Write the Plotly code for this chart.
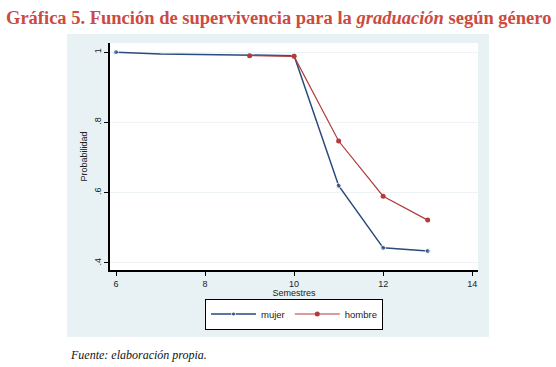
import plotly.graph_objects as go

# Data
mujer_x = [6, 7, 10, 11, 12, 13]
mujer_y = [1.0, 0.995, 0.99, 0.62, 0.443, 0.434]
mujer_marker = [5, 0, 5, 5, 5, 5]
hombre_x = [9, 10, 11, 12, 13]
hombre_y = [0.99, 0.988, 0.747, 0.59, 0.522]
x_ticks = [6, 8, 10, 12, 14]
y_ticks = [0.4, 0.6, 0.8, 1.0]
y_tick_labels = [".4", ".6", ".8", "1"]

BLUE = "#2b4a7c"
RED = "#b23b3b"

fig = go.Figure()
fig.add_trace(go.Scatter(x=mujer_x, y=mujer_y, mode="lines+markers", name="mujer",
                         line=dict(color=BLUE, width=1.5),
                         marker=dict(color=BLUE, size=mujer_marker, symbol="circle")))
fig.add_trace(go.Scatter(x=hombre_x, y=hombre_y, mode="lines+markers", name="hombre",
                         line=dict(color=RED, width=1.2),
                         marker=dict(color=RED, size=5, symbol="circle")))

L, R, T, B = 110, 78, 43, 97
W, H = 556, 367
pw = W - L - R
ph = H - T - B

def px(x):
    return (x - L) / pw

def py(y):
    return (H - B - y) / ph

fig.add_shape(type="rect", xref="paper", yref="paper",
              x0=px(67), x1=px(489), y0=py(337), y1=py(34),
              fillcolor="#e8f1f4", line=dict(width=0), layer="below")
fig.add_shape(type="rect", xref="paper", yref="paper",
              x0=0, x1=1, y0=0, y1=1,
              fillcolor="white", line=dict(width=0), layer="below")

fig.update_layout(
    width=W, height=H,
    margin=dict(l=L, r=R, t=T, b=B, autoexpand=False),
    paper_bgcolor="white", plot_bgcolor="white",
    font=dict(family="Liberation Sans, Arial, sans-serif", size=9, color="#222"),
    showlegend=True,
    legend=dict(orientation="h", xref="container", yref="container",
                x=294 / W, xanchor="center", y=1 - 314 / H, yanchor="middle",
                bordercolor="black", borderwidth=1, bgcolor="white",
                font=dict(size=9.5), itemwidth=45, tracegroupgap=0),
    xaxis=dict(range=[5.865, 14.13], tickvals=x_ticks, showline=True, linecolor="black",
               linewidth=1.5, ticks="outside", ticklen=4, tickcolor="black",
               showgrid=False, zeroline=False, automargin=False,
               title=dict(text="Semestres", standoff=2, font=dict(size=9))),
    yaxis=dict(range=[0.38, 1.026], tickvals=y_ticks, ticktext=y_tick_labels, tickangle=-90,
               showline=True, linecolor="black", linewidth=1.5, ticks="outside", ticklen=4,
               tickcolor="black", showgrid=True, gridcolor="#eef3f5", gridwidth=1,
               zeroline=False, automargin=False,
               title=dict(text="Probabilidad", standoff=4, font=dict(size=9))),
)

fig.add_annotation(xref="paper", yref="paper", x=px(278), y=py(18), xanchor="center",
                   yanchor="middle", showarrow=False,
                   text="<b>Gráfica 5. Función de supervivencia para la <i>graduación</i> según género</b>",
                   font=dict(family="Liberation Serif, Times New Roman, serif", size=18.5, color="#cd4a40"))
fig.add_annotation(xref="paper", yref="paper", x=px(68), y=py(355), xanchor="left",
                   yanchor="middle", showarrow=False,
                   text="<i>Fuente: elaboración propia.</i>",
                   font=dict(family="Liberation Serif, Times New Roman, serif", size=12, color="#111"))

fig.write_html("out.html", config={"displayModeBar": False},
               post_script="document.body.style.margin='0px';")
